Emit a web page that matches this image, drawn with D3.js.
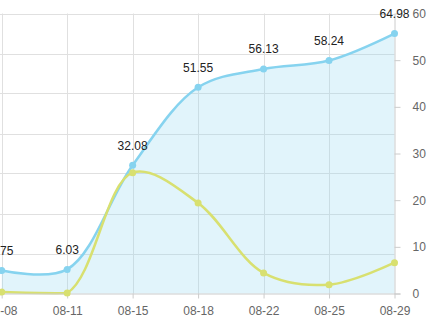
<!DOCTYPE html>
<html>
<head>
<meta charset="utf-8">
<script src="https://cdn.jsdelivr.net/npm/d3@7/dist/d3.min.js"></script>
<style>
  html, body { margin: 0; padding: 0; background: #fff; }
  svg { display: block; font-family: "Liberation Sans", Arial, sans-serif; }
</style>
</head>
<body>
<svg id="chart" width="439" height="317"></svg>
<script>
// data
const categories = ["08-08", "08-11", "08-15", "08-18", "08-22", "08-25", "08-29"];
const totalValues = [5.75, 6.03, 32.08, 51.55, 56.13, 58.24, 64.98];   // left axis (0-70)
const dailyValues = [0.3, 0.1, 25.9, 19.4, 4.4, 1.9, 6.6];             // right axis (0-60)
const leftTicks = [0, 10, 20, 30, 40, 50, 60, 70];
const rightTicks = [0, 10, 20, 30, 40, 50, 60];

const blue = "#86d3ef";
const yellow = "#d8e070";

const svg = d3.select("#chart");
const plotTop = 13.5, plotBottom = 293.5, plotRight = 394.5;

const x = d3.scalePoint().domain(categories).range([1.7, plotRight]);
const yLeft = d3.scaleLinear().domain([0, 70]).range([plotBottom, plotTop]);
const yRight = d3.scaleLinear().domain([0, 60]).range([plotBottom, plotTop]);

// centripetal catmull-rom, control points kept inside the plot (no dip under the axis)
function smoothPath(pts, baseline) {
  const n = pts.length;
  const clampY = v => Math.max(plotTop, Math.min(plotBottom, v));
  const dist = (a, b) => Math.sqrt(Math.hypot(b[0] - a[0], b[1] - a[1])); // ^0.5
  const p = d3.path();
  p.moveTo(pts[0][0], pts[0][1]);
  for (let i = 0; i < n - 1; i++) {
    const p0 = pts[Math.max(i - 1, 0)], p1 = pts[i], p2 = pts[i + 1], p3 = pts[Math.min(i + 2, n - 1)];
    const l01 = dist(p0, p1), l12 = dist(p1, p2), l23 = dist(p2, p3);
    let c1 = p1.slice(), c2 = p2.slice();
    if (l01 > 1e-6) {
      const a = 2 * l01 * l01 + 3 * l01 * l12 + l12 * l12, m = 3 * l01 * (l01 + l12);
      c1 = [0, 1].map(k => (p1[k] * a - p0[k] * l12 * l12 + p2[k] * l01 * l01) / m);
    }
    if (l23 > 1e-6) {
      const b = 2 * l23 * l23 + 3 * l23 * l12 + l12 * l12, m = 3 * l23 * (l23 + l12);
      c2 = [0, 1].map(k => (p2[k] * b + p1[k] * l23 * l23 - p3[k] * l12 * l12) / m);
    }
    p.bezierCurveTo(c1[0], clampY(c1[1]), c2[0], clampY(c2[1]), p2[0], p2[1]);
  }
  if (baseline != null) {
    p.lineTo(pts[n - 1][0], baseline);
    p.lineTo(pts[0][0], baseline);
    p.closePath();
  }
  return p.toString();
}

// grid
svg.append("g").selectAll("line")
  .data(leftTicks.slice(1))
  .join("line")
  .attr("x1", 0).attr("x2", plotRight)
  .attr("y1", d => Math.round(yLeft(d)) + 0.5).attr("y2", d => Math.round(yLeft(d)) + 0.5)
  .attr("stroke", "#e0e0e0");

svg.append("g").selectAll("line")
  .data(categories.slice(0, -1))
  .join("line")
  .attr("x1", d => Math.round(x(d)) + 0.5).attr("x2", d => Math.round(x(d)) + 0.5)
  .attr("y1", plotTop).attr("y2", plotBottom)
  .attr("stroke", "#e0e0e0");

const bluePts = categories.map((c, i) => [x(c), yLeft(totalValues[i])]);
const yellowPts = categories.map((c, i) => [x(c), yRight(dailyValues[i])]);

// area under total line
svg.append("path")
  .attr("d", smoothPath(bluePts, yLeft(0)))
  .attr("fill", blue)
  .attr("fill-opacity", 0.25);

svg.append("path")
  .attr("d", smoothPath(bluePts))
  .attr("fill", "none")
  .attr("stroke", blue)
  .attr("stroke-width", 2.5);

svg.append("path")
  .attr("d", smoothPath(yellowPts))
  .attr("fill", "none")
  .attr("stroke", yellow)
  .attr("stroke-width", 2.5);

// axes
const xAxis = svg.append("g")
  .attr("transform", `translate(0,${plotBottom})`)
  .call(d3.axisBottom(x).tickSize(5).tickSizeOuter(0).tickPadding(8));
xAxis.select(".domain").attr("stroke", "#ccc").attr("d", `M0,0.5H${plotRight + 6}`);
xAxis.selectAll(".tick line").attr("stroke", "#ccc");
xAxis.selectAll("text").attr("fill", "#666").style("font-size", "12px")
  .style("font-family", "'Liberation Sans', Arial, sans-serif");

const yAxis = svg.append("g")
  .attr("transform", `translate(${plotRight},0)`)
  .call(d3.axisRight(yRight).tickValues(rightTicks).tickSize(6).tickSizeOuter(0).tickPadding(12));
yAxis.select(".domain").attr("stroke", "#ccc");
yAxis.selectAll(".tick line").attr("stroke", "#ccc");
yAxis.selectAll("text").attr("fill", "#666").style("font-size", "12px")
  .style("font-family", "'Liberation Sans', Arial, sans-serif");

// points
svg.append("g").selectAll("circle")
  .data(bluePts)
  .join("circle")
  .attr("cx", d => d[0]).attr("cy", d => d[1]).attr("r", 3.5)
  .attr("fill", blue);

svg.append("g").selectAll("circle")
  .data(yellowPts)
  .join("circle")
  .attr("cx", d => d[0]).attr("cy", d => d[1]).attr("r", 3.5)
  .attr("fill", yellow);

// value labels
svg.append("g").selectAll("text")
  .data(totalValues)
  .join("text")
  .attr("x", (d, i) => x(categories[i]))
  .attr("y", d => yLeft(d) - 15.5)
  .attr("text-anchor", "middle")
  .attr("fill", "#222")
  .style("font-size", "12px")
  .text(d => d.toFixed(2));
</script>
</body>
</html>
